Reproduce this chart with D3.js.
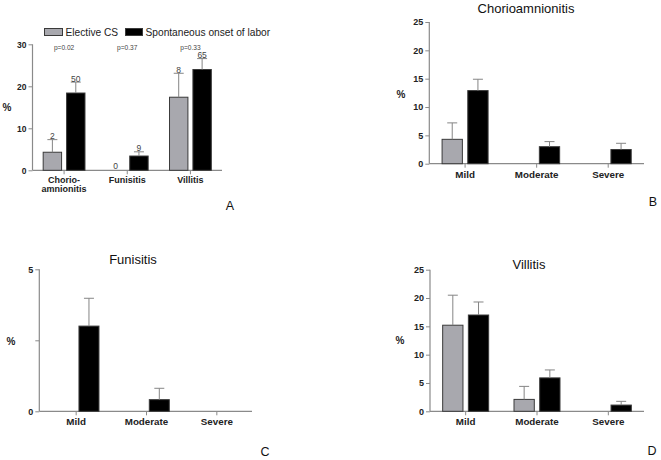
<!DOCTYPE html>
<html><head><meta charset="utf-8">
<script src="https://cdn.jsdelivr.net/npm/d3@7"></script>
<style>
html,body{margin:0;padding:0;background:#fff;}
svg{display:block;font-family:"Liberation Sans",Arial,sans-serif;}
</style></head>
<body>
<svg id="chart" width="661" height="460"></svg>
<script>
// ---------- Panel A data ----------
const catsA = ["Chorio-\namnionitis", "Funisitis", "Villitis"];
const electiveA = [4.3, 0, 17.4];
const electiveErrA = [3.0, 0, 5.7];
const spontA = [18.4, 3.4, 24.0];
const spontErrA = [2.6, 1.0, 2.6];
const electiveN = ["2", "0", "8"];
const spontN = ["50", "9", "65"];
const pValues = ["p=0.02", "p=0.37", "p=0.33"];
const ticksA = [0, 10, 20, 30];
const seriesNames = ["Elective CS", "Spontaneous onset of labor"];

// ---------- Panels B, C, D data ----------
const severity = ["Mild", "Moderate", "Severe"];
const electiveB = [4.3, 0, 0];
const electiveErrB = [2.9, 0, 0];
const spontB = [12.9, 3.0, 2.5];
const spontErrB = [2.0, 0.9, 1.1];

const electiveC = [0, 0, 0];
const electiveErrC = [0, 0, 0];
const spontC = [3.0, 0.41, 0];
const spontErrC = [0.98, 0.4, 0];

const electiveD = [15.2, 2.1, 0];
const electiveErrD = [5.3, 2.3, 0];
const spontD = [17.0, 5.9, 1.1];
const spontErrD = [2.3, 1.4, 0.66];

const ticks25 = [0, 5, 10, 15, 20, 25];
const ticksC = [0, 2.5, 5];

const GRAY = "#a8a8ae", BLACK = "#000", OUT = "#3a3a3a", AXIS = "#8a8a8a", ERR = "#858585";

const svg = d3.select("#chart");

function panel(cfg) {
  const g = svg.append("g");
  const x = d3.scaleBand().domain(cfg.cats).range([cfg.xr[0], cfg.xr[1]]);
  const y = d3.scaleLinear().domain(cfg.ydom).range([cfg.y0, cfg.y1]);
  const ax = cfg.axisX;

  // y axis
  const yAxis = d3.axisLeft(y).tickValues(cfg.ticks).tickSize(4).tickPadding(2)
    .tickFormat(d => cfg.tickLabel ? cfg.tickLabel(d) : d);
  const yg = g.append("g").attr("transform", `translate(${ax},0)`).call(yAxis);
  yg.select(".domain").remove();
  yg.selectAll(".tick line").attr("stroke", AXIS);
  yg.selectAll(".tick text").attr("font-size", cfg.tickFont).attr("font-weight", "bold").attr("fill", "#222");
  g.append("line").attr("x1", ax).attr("x2", ax).attr("y1", y(cfg.ydom[1])).attr("y2", y(0))
    .attr("stroke", AXIS).attr("stroke-width", 1.2);
  // x axis
  g.append("line").attr("x1", ax).attr("x2", cfg.xr[1]).attr("y1", y(0)).attr("y2", y(0))
    .attr("stroke", AXIS).attr("stroke-width", 1.2);
  cfg.cats.forEach(c => {
    const cx = x(c) + x.bandwidth() / 2;
    g.append("line").attr("x1", cx).attr("x2", cx).attr("y1", y(0)).attr("y2", y(0) + 4).attr("stroke", AXIS);
    const lines = c.split("\n");
    lines.forEach((t, i) => {
      g.append("text").attr("x", cx).attr("y", y(0) + cfg.catDy + i * 9.5)
        .attr("text-anchor", "middle").attr("font-size", cfg.catFont).attr("font-weight", "bold")
        .attr("fill", "#222").text(t);
    });
  });

  const bw = cfg.bw, gap = cfg.gap;
  const series = [
    {vals: cfg.e, err: cfg.ee, fill: GRAY, off: -gap - bw, lab: cfg.eLab},
    {vals: cfg.s, err: cfg.se, fill: BLACK, off: gap, lab: cfg.sLab}
  ];
  series.forEach(s => {
    cfg.cats.forEach((c, i) => {
      const cx = x(c) + x.bandwidth() / 2;
      const bx = cx + s.off;
      const v = s.vals[i];
      if (v > 0) {
        g.append("rect").attr("x", bx).attr("y", y(v)).attr("width", bw).attr("height", y(0) - y(v))
          .attr("fill", s.fill).attr("stroke", OUT).attr("stroke-width", 1);
        if (s.err[i] > 0) {
          const mx = bx + bw / 2, top = y(v + s.err[i]);
          g.append("line").attr("x1", mx).attr("x2", mx).attr("y1", y(v)).attr("y2", top).attr("stroke", ERR);
          g.append("line").attr("x1", mx - 5).attr("x2", mx + 5).attr("y1", top).attr("y2", top).attr("stroke", ERR);
        }
      }
      if (s.lab) {
        const top = y(v + s.err[i]);
        g.append("text").attr("x", bx + bw / 2).attr("y", (v > 0 ? top - 0.5 : y(0) - 1.5))
          .attr("text-anchor", "middle").attr("font-size", 8.5).attr("fill", "#444").text(s.lab[i]);
      }
    });
  });

  if (cfg.pv) {
    cfg.cats.forEach((c, i) => {
      const cx = x(c) + x.bandwidth() / 2;
      g.append("text").attr("x", cx).attr("y", cfg.pvY).attr("text-anchor", "middle")
        .attr("font-size", 6.6).attr("fill", "#444").text(cfg.pv[i]);
    });
  }
  if (cfg.title) {
    g.append("text").attr("x", cfg.title.x).attr("y", cfg.title.y).attr("text-anchor", "middle")
      .attr("font-size", 13).attr("fill", "#111").text(cfg.title.t);
  }
  g.append("text").attr("x", cfg.pct[0]).attr("y", cfg.pct[1]).attr("text-anchor", "middle")
    .attr("font-size", 10).attr("font-weight", "bold").attr("fill", "#222").text("%");
  g.append("text").attr("x", cfg.letter[0]).attr("y", cfg.letter[1]).attr("text-anchor", "middle")
    .attr("font-size", 12.5).attr("fill", "#111").text(cfg.letter[2]);
}

// Panel A
panel({cats: catsA, xr: [32.5, 222], axisX: 32.5, ydom: [0, 30], y0: 170.3, y1: 44.3, ticks: ticksA,
  tickFont: 8.5, catFont: 9, catDy: 12.5, bw: 18.4, gap: 2.5,
  e: electiveA, ee: electiveErrA, s: spontA, se: spontErrA, eLab: electiveN, sLab: spontN,
  pv: pValues, pvY: 49.5, pct: [7, 111], letter: [230, 210, "A"]});

// Legend A
svg.append("rect").attr("x", 44.5).attr("y", 28.5).attr("width", 18).attr("height", 7)
  .attr("fill", GRAY).attr("stroke", OUT);
svg.append("text").attr("x", 65.5).attr("y", 36).attr("font-size", 10.2).attr("fill", "#222").text(seriesNames[0]);
svg.append("rect").attr("x", 125.5).attr("y", 28.5).attr("width", 17).attr("height", 7)
  .attr("fill", BLACK).attr("stroke", OUT);
svg.append("text").attr("x", 145.5).attr("y", 36).attr("font-size", 10.2).attr("fill", "#222").text(seriesNames[1]);

// Panel B
panel({cats: severity, xr: [429.3, 644], axisX: 429.3, ydom: [0, 25], y0: 163.7, y1: 22, ticks: ticks25,
  tickFont: 9, catFont: 9.8, catDy: 14, bw: 20.3, gap: 2.7,
  e: electiveB, ee: electiveErrB, s: spontB, se: spontErrB,
  title: {x: 526, y: 13, t: "Chorioamnionitis"}, pct: [401, 98], letter: [653, 206, "B"]});

// Panel C
panel({cats: severity, xr: [41, 252], axisX: 39.3, ydom: [0, 5], y0: 411.3, y1: 269.3, ticks: ticksC,
  tickLabel: d => (d === 2.5 ? "" : d),
  tickFont: 9, catFont: 9.8, catDy: 14, bw: 20, gap: 2.8,
  e: electiveC, ee: electiveErrC, s: spontC, se: spontErrC,
  title: {x: 133, y: 264, t: "Funisitis"}, pct: [11, 345], letter: [265, 456, "C"]});

// Panel D
panel({cats: severity, xr: [430, 644], axisX: 430, ydom: [0, 25], y0: 411.3, y1: 269.7, ticks: ticks25,
  tickFont: 9, catFont: 9.8, catDy: 14, bw: 20.3, gap: 2.7,
  e: electiveD, ee: electiveErrD, s: spontD, se: spontErrD,
  title: {x: 529, y: 268.5, t: "Villitis"}, pct: [400, 344], letter: [652, 455, "D"]});
</script>
</body></html>
